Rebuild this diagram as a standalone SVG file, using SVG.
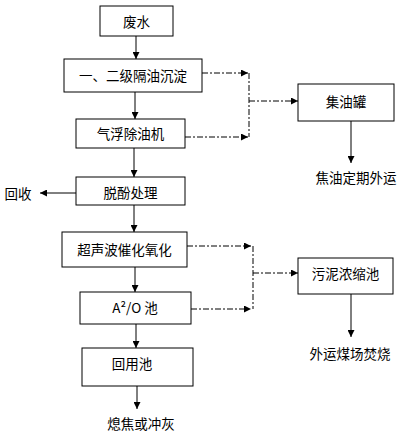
<svg xmlns="http://www.w3.org/2000/svg" width="400" height="432" viewBox="0 0 400 432">
<style>
.b{fill:#fff;stroke:#000;stroke-width:1}
.t{font-family:"Noto Sans CJK SC","Liberation Sans",sans-serif;font-size:13.5px;fill:#000;text-anchor:middle;dominant-baseline:central}
.s{fill:none;stroke:#000;stroke-width:1}
.d{fill:none;stroke:#000;stroke-width:1;stroke-dasharray:6 2 2 2}
</style>
<defs>
<marker id="a" viewBox="0 0 10 10" refX="10" refY="5" markerWidth="7" markerHeight="7" markerUnits="userSpaceOnUse" orient="auto">
<path d="M0,0 L10,5 L0,10 z" fill="#000"/>
</marker>
</defs>
<rect width="400" height="432" fill="#fff"/>
<g id="connectors">
<line class="s" x1="136" y1="36" x2="136" y2="59" marker-end="url(#a)"/>
<line class="s" x1="135" y1="92" x2="135" y2="119" marker-end="url(#a)"/>
<line class="s" x1="134" y1="148" x2="134" y2="177" marker-end="url(#a)"/>
<line class="s" x1="76" y1="193" x2="40" y2="193" marker-end="url(#a)"/>
<line class="s" x1="134" y1="205" x2="134" y2="232" marker-end="url(#a)"/>
<line class="s" x1="135" y1="267" x2="135" y2="292" marker-end="url(#a)"/>
<line class="s" x1="136" y1="324" x2="136" y2="348" marker-end="url(#a)"/>
<line class="s" x1="137" y1="386" x2="137" y2="409" marker-end="url(#a)"/>
<line class="d" x1="202" y1="73" x2="248" y2="73" marker-end="url(#a)"/>
<line class="d" x1="185" y1="137" x2="248" y2="137" marker-end="url(#a)"/>
<line class="d" x1="249" y1="73" x2="249" y2="137"/>
<line class="d" x1="249" y1="101" x2="298" y2="101" marker-end="url(#a)"/>
<line class="s" x1="351" y1="121" x2="351" y2="163" stroke-width="2" marker-end="url(#a)"/>
<line class="d" x1="187" y1="246" x2="251" y2="246" marker-end="url(#a)"/>
<line class="d" x1="191" y1="309" x2="251" y2="309" marker-end="url(#a)"/>
<line class="d" x1="253" y1="246" x2="253" y2="309"/>
<line class="d" x1="253" y1="273" x2="298" y2="273" marker-end="url(#a)"/>
<line class="s" x1="351" y1="294" x2="351" y2="337" marker-end="url(#a)"/>
</g>
<g id="n1"><rect class="b" x="100" y="6" width="73" height="30"/><text class="t" x="136.5" y="21">废水</text></g>
<g id="n2"><rect class="b" x="64" y="59" width="138" height="33"/><text class="t" x="133" y="75">一、二级隔油沉淀</text></g>
<g id="n3"><rect class="b" x="76" y="119" width="109" height="29"/><text class="t" x="130.5" y="133">气浮除油机</text></g>
<g id="n4"><rect class="b" x="76" y="177" width="109" height="28"/><text class="t" x="130.5" y="192">脱酚处理</text></g>
<g id="n5"><rect class="b" x="62" y="232" width="125" height="35"/><text class="t" x="124.5" y="249">超声波催化氧化</text></g>
<g id="n6"><rect class="b" x="80" y="292" width="111" height="32"/><text class="t" x="135" y="307">A²/O 池</text></g>
<g id="n7"><rect class="b" x="82" y="348" width="111" height="38"/><text class="t" x="132" y="363">回用池</text></g>
<g id="n8"><rect class="b" x="298" y="84" width="96" height="37"/><text class="t" x="346" y="101">集油罐</text></g>
<g id="n9"><rect class="b" x="298" y="258" width="95" height="36"/><text class="t" x="345.5" y="273">污泥浓缩池</text></g>
<g id="l1"><text class="t" x="18" y="193">回收</text></g>
<g id="l2"><text class="t" x="356" y="177">焦油定期外运</text></g>
<g id="l3"><text class="t" x="350" y="353">外运煤场焚烧</text></g>
<g id="l4"><text class="t" x="141" y="423">熄焦或冲灰</text></g>
</svg>
